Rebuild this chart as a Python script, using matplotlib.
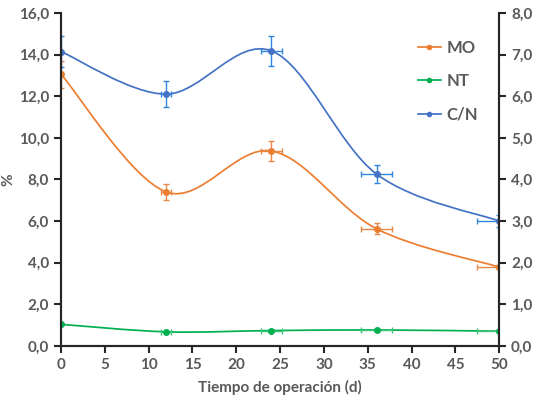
import matplotlib.pyplot as plt
from matplotlib.path import Path
from matplotlib.patches import PathPatch
from matplotlib.lines import Line2D
from matplotlib.ticker import FuncFormatter, MultipleLocator

# data
dias = [0, 12, 24, 36, 50]
dias_err = [0, 0.55, 1.2, 1.8, 2.5]
mo = [13.05, 7.4, 9.37, 5.63, 3.79]
mo_err = [0.65, 0.38, 0.48, 0.27, 0.1]
nt = [1.04, 0.68, 0.74, 0.77, 0.71]
nt_err = [0.03, 0.03, 0.03, 0.03, 0.03]
cn = [7.07, 6.05, 7.09, 4.13, 3.0]
cn_err = [0.38, 0.31, 0.36, 0.22, 0.15]

GRIS = '#595959'
plt.rcParams['font.family'] = ['Lato', 'DejaVu Sans']
plt.rcParams['font.weight'] = 'bold'


def curva(ax, xs, ys, color):
    # Excel-style smoothed line (bezier through the points)
    n = len(xs)
    verts = [(xs[0], ys[0])]
    codes = [Path.MOVETO]
    for i in range(n - 1):
        a = max(i - 1, 0)
        b = min(i + 2, n - 1)
        c1 = (xs[i] + (xs[i + 1] - xs[a]) / 6, ys[i] + (ys[i + 1] - ys[a]) / 6)
        c2 = (xs[i + 1] - (xs[b] - xs[i]) / 6, ys[i + 1] - (ys[b] - ys[i]) / 6)
        verts += [c1, c2, (xs[i + 1], ys[i + 1])]
        codes += [Path.CURVE4] * 3
    ax.add_patch(PathPatch(Path(verts, codes), fill=False, edgecolor=color, lw=1.25))


fig, ax = plt.subplots(figsize=(5.45, 4.04), dpi=100)
fig.subplots_adjust(left=0.112, right=0.916, bottom=0.1436, top=0.968)
ax2 = ax.twinx()

curva(ax, dias, mo, '#ED7D31')
curva(ax, dias, nt, '#00B050')
curva(ax2, dias, cn, '#4472C4')

ax.errorbar(dias, mo, yerr=mo_err, xerr=dias_err, fmt='o', ms=4, color='#ED7D31',
            ecolor='#E8894A', elinewidth=1, capsize=2)
ax.errorbar(dias, nt, yerr=nt_err, xerr=dias_err, fmt='o', ms=4, color='#00B050',
            ecolor='#3CC47A', elinewidth=1, capsize=2)
ax2.errorbar(dias, cn, yerr=cn_err, xerr=dias_err, fmt='o', ms=4, color='#4472C4',
             ecolor='#2E86DE', elinewidth=1, capsize=2)

ax.set_xlim(0, 50)
ax.set_ylim(0, 16)
ax2.set_ylim(0, 8)
ax.xaxis.set_major_locator(MultipleLocator(5))
ax.yaxis.set_major_locator(MultipleLocator(2))
ax2.yaxis.set_major_locator(MultipleLocator(1))
coma = FuncFormatter(lambda v, p: f'{v:.1f}'.replace('.', ','))
ax.yaxis.set_major_formatter(coma)
ax2.yaxis.set_major_formatter(coma)

for a in (ax, ax2):
    a.spines['top'].set_visible(False)
    for s in ('left', 'right', 'bottom'):
        a.spines[s].set_color('#262626')
        a.spines[s].set_linewidth(1.5)
    a.tick_params(colors='#262626', labelcolor=GRIS, labelsize=11, width=1.5, length=5)

ax.set_xlabel('Tiempo de operación (d)', color=GRIS, fontsize=11, fontweight='bold', labelpad=6)
ax.set_ylabel('%', color=GRIS, fontsize=11, fontweight='bold')
ax.yaxis.set_label_coords(-0.105, 0.5)

handles = [Line2D([], [], color='#ED7D31', marker='o', ms=3, lw=1.25),
           Line2D([], [], color='#00B050', marker='o', ms=3, lw=1.25),
           Line2D([], [], color='#4472C4', marker='o', ms=3, lw=1.25)]
leg = ax2.legend(handles, ['MO', 'NT', 'C/N'], loc='upper left', bbox_to_anchor=(0.78, 0.965),
                 frameon=False, handlelength=1.4, handletextpad=0.3, labelspacing=1.05,
                 prop={'size': 12, 'weight': 'bold'})
for t in leg.get_texts():
    t.set_color(GRIS)

plt.savefig('out.png', dpi=100)
